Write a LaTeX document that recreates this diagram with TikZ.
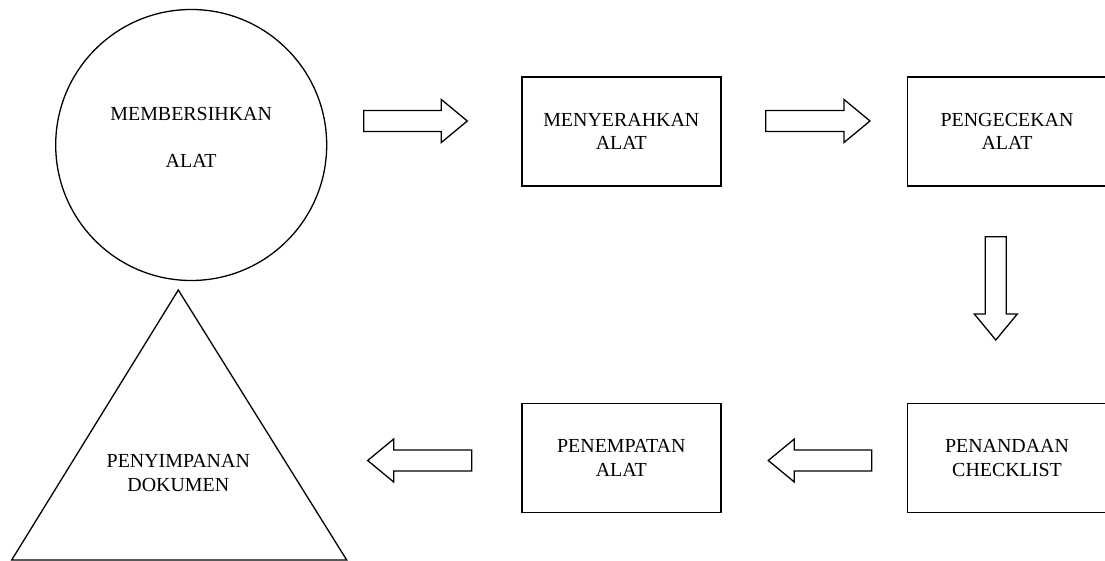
\documentclass[tikz,border=0pt]{standalone}
\usepackage{fontspec}
\setmainfont{Liberation Serif}
\usetikzlibrary{calc,positioning}
\tikzset{
	stepbox/.style={draw, black, line width=1.5bp, rectangle, minimum width=199bp, minimum height=109bp, align=center, inner sep=0pt},
	steptext/.style={align=center, inner sep=0pt},
	arrowline/.style={draw, black, line width=1.3bp, line join=miter}
}
% hollow block arrow from #1 to #2
\newcommand{\blockarrow}[2]{%
	\coordinate (hb) at ($(#2)!26bp!(#1)$);
	\draw[arrowline] ($(#1)!10.5bp!90:(#2)$) -- ($(hb)!10.5bp!90:(#2)$) -- ($(hb)!21.5bp!90:(#2)$) -- (#2)
		-- ($(hb)!21.5bp!-90:(#2)$) -- ($(hb)!10.5bp!-90:(#2)$) -- ($(#1)!10.5bp!-90:(#2)$) -- cycle;
}
\begin{document}
\begin{tikzpicture}[x=1bp, y=-1bp, font=\fontsize{20}{23.6}\selectfont]
		\useasboundingbox (0,0) rectangle (1105,561);
		% start
		\node[draw, black, line width=1.3bp, circle, minimum size=271bp, inner sep=0pt] (clean) at (191.2,145) {};
		\node[steptext] (cleantext) at (191.2,137.5) {MEMBERSIHKAN\\[23.4bp]ALAT};
		% steps
		\node[stepbox] (hand) at (621.3,131.3) {MENYERAHKAN\\ALAT};
		\node[stepbox] (check) at (1007,131.3) {PENGECEKAN\\ALAT};
		\node[stepbox] (tick) at (1007,457.8) {PENANDAAN\\CHECKLIST};
		\node[stepbox] (place) at (621.3,457.8) {PENEMPATAN\\ALAT};
		% end
		\coordinate (storetop) at (178.3,290);
		\coordinate (storeleft) at (11.7,560);
		\coordinate (storeright) at (346.7,560);
		\draw[black, line width=1.3bp] (storetop) -- (storeleft) -- (storeright) -- cycle;
		\node[steptext] (store) at (178.3,473) {PENYIMPANAN\\DOKUMEN};
		% arrows
		\coordinate (a1s) at (363.7,121);
		\coordinate (a1e) at (467.3,121);
		\coordinate (a2s) at (765.7,121);
		\coordinate (a2e) at (870,121);
		\coordinate (a3s) at (995.8,236.7);
		\coordinate (a3e) at (995.8,340);
		\coordinate (a4s) at (871.7,460.5);
		\coordinate (a4e) at (768.3,460.5);
		\coordinate (a5s) at (471.7,460.5);
		\coordinate (a5e) at (367.7,460.5);
		\blockarrow{a1s}{a1e}
		\blockarrow{a2s}{a2e}
		\blockarrow{a3s}{a3e}
		\blockarrow{a4s}{a4e}
		\blockarrow{a5s}{a5e}
	\end{tikzpicture}
\end{document}
